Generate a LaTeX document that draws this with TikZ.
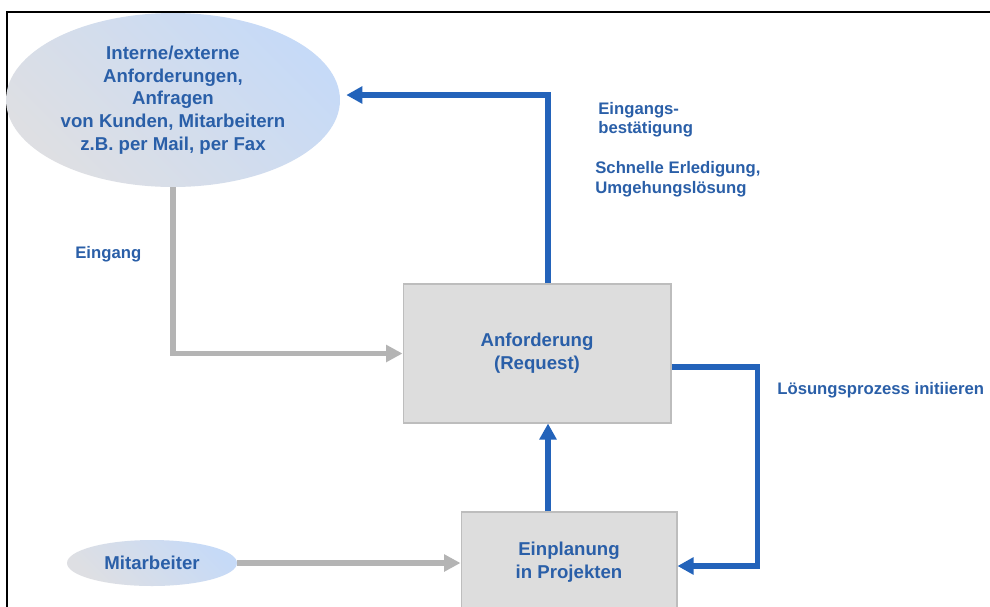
\documentclass[tikz,border=0pt]{standalone}
\usepackage{fontspec}
\setmainfont{Liberation Sans}
\usetikzlibrary{arrows.meta,shapes.geometric,calc}
\definecolor{txtblue}{HTML}{2A5FA8}
\definecolor{arrblue}{HTML}{2363BA}
\definecolor{arrgray}{HTML}{B4B4B4}
\definecolor{boxfill}{HTML}{DDDDDD}
\definecolor{boxline}{HTML}{BDBDBD}
\definecolor{ellblue}{HTML}{C6DAF7}
\definecolor{ellgray}{HTML}{DEDFE3}
\begin{document}
\begin{tikzpicture}[x=0.02cm,y=-0.02cm,
  txt/.style={text=txtblue,font=\fontsize{10.6}{12.9}\selectfont\bfseries,align=center},
  lbl/.style={text=txtblue,font=\fontsize{9.5}{10.5}\selectfont\bfseries,align=left,inner sep=0},
  ellnode/.style={ellipse,inner sep=0,top color=ellblue,bottom color=ellgray,shading angle=-45},
  boxnode/.style={rectangle,fill=boxfill,draw=boxline,line width=0.6pt,inner sep=0},
  bluearr/.style={draw=arrblue,line width=3.2pt,-{Triangle[length=0.32cm,width=0.33cm]}},
  grayarr/.style={draw=arrgray,line width=3pt,-{Triangle[length=0.33cm,width=0.33cm]}}
]
\clip (0,0) rectangle (990,606);
\fill[white] (0,0) rectangle (990,606);
\draw[line width=0.9pt] (7,610) -- (7,12) -- (990,12);

\node[ellnode,txt,minimum width=6.68cm,minimum height=3.48cm] (src) at (173,100)
  {Interne/externe\\Anforderungen,\\Anfragen\\von Kunden, Mitarbeitern\\z.B. per Mail, per Fax};
\node[ellnode,txt,minimum width=3.4cm,minimum height=0.92cm] (mit) at (152,563) {Mitarbeiter};
\node[boxnode,txt,minimum width=5.36cm,minimum height=2.78cm] (req) at (537,353.5) {Anforderung\\(Request)};
\node[boxnode,txt,minimum width=4.32cm,minimum height=2cm] (plan) at (569,562) {Einplanung\\in Projekten};

\draw[grayarr] (src.south) |- (req.west);
\draw[grayarr] (mit.east) -- (mit.east -| plan.west);

\coordinate (b1) at ([xshift=0.22cm]req.north);
\draw[bluearr] (b1) |- ([shift={(0.12cm,0.1cm)}]src.east);
\coordinate (r1) at ([yshift=-0.27cm]req.east);
\draw[bluearr] (r1) -- ++(86,0) |- ([yshift=-0.08cm]plan.east);
\coordinate (u1) at ([xshift=-0.42cm]plan.north);
\draw[bluearr] (u1) -- (u1 |- req.south);

\node[lbl,anchor=north west] (l1) at (598,102.5) {Eingangs-\\bestätigung};
\node[lbl,anchor=north west,font=\fontsize{9.5}{11.3}\selectfont\bfseries] (l2) at (595,161.5) {Schnelle Erledigung,\\Umgehungslösung};
\node[lbl,anchor=base west] (l3) at (75,258) {Eingang};
\node[lbl,anchor=base west] (l4) at (777,394.3) {Lösungsprozess initiieren};
\end{tikzpicture}
\end{document}
